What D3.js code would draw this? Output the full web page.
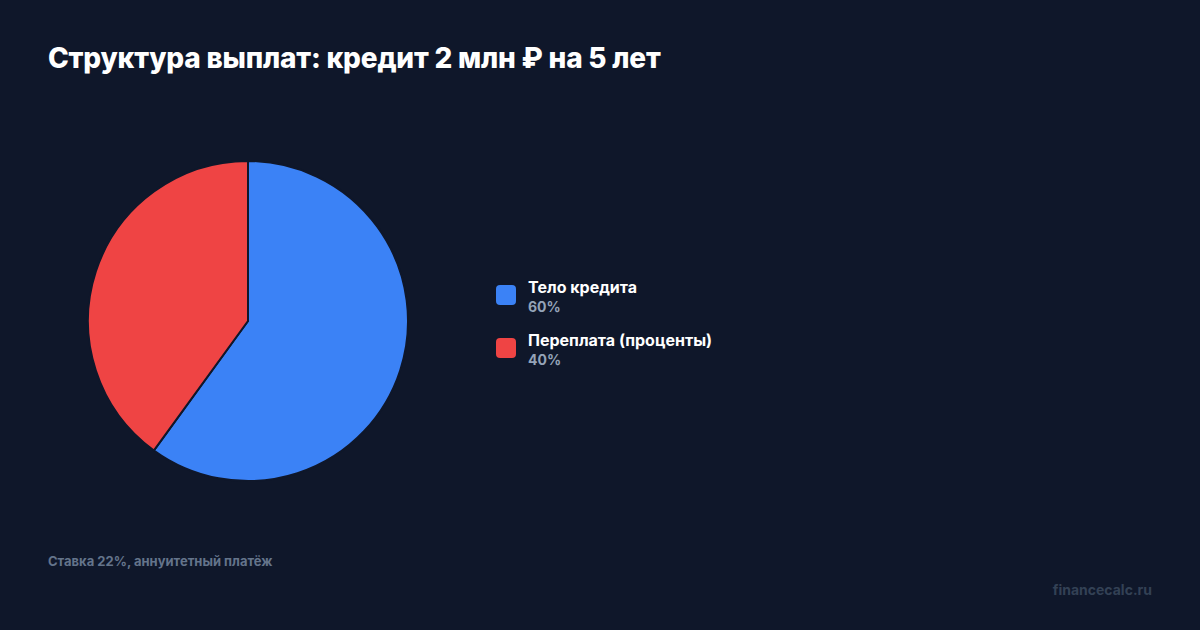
<!DOCTYPE html>
<html><head><meta charset="utf-8">
<script src="https://cdn.jsdelivr.net/npm/d3@7"></script>
<style>html,body{margin:0;padding:0;background:#0f172a;}svg{display:block;font-family:Inter,"Noto Sans",sans-serif;}</style>
</head><body>
<script>
const categories = ["Тело кредита", "Переплата (проценты)"];
const values = [60, 40];
const colors = ["#3b82f6", "#ef4444"];
const valueLabels = ["60%", "40%"];
const title = "Структура выплат: кредит 2 млн ₽ на 5 лет";
const note = "Ставка 22%, аннуитетный платёж";
const source = "financecalc.ru";

const W = 1200, H = 630;
const svg = d3.select("body").append("svg").attr("width", W).attr("height", H);
svg.append("rect").attr("width", W).attr("height", H).attr("fill", "#0f172a");

svg.append("text").attr("x", 48).attr("y", 68).attr("fill", "#ffffff")
  .attr("font-size", 28).attr("font-weight", 800).attr("letter-spacing", -0.2).text(title);

const data = categories.map((c, i) => ({c, v: values[i], col: colors[i], lab: valueLabels[i]}));
const pie = d3.pie().value(d => d.v).sort(null);
const arc = d3.arc().innerRadius(0).outerRadius(160);
const g = svg.append("g").attr("transform", "translate(248,321)");
g.selectAll("path").data(pie(data)).join("path")
  .attr("d", arc).attr("fill", d => d.data.col)
  .attr("stroke", "#0f172a").attr("stroke-width", 2).attr("stroke-linejoin", "round");

const leg = svg.append("g");
const y0 = 285, dy = 53;
const items = leg.selectAll("g").data(data).join("g")
  .attr("transform", (d, i) => `translate(496,${y0 + i * dy})`);
items.append("rect").attr("width", 20).attr("height", 20).attr("rx", 4).attr("fill", d => d.col);
items.append("text").attr("x", 32).attr("y", 8).attr("fill", "#ffffff")
  .attr("font-size", 16).attr("font-weight", 700).text(d => d.c);
items.append("text").attr("x", 32).attr("y", 27).attr("fill", "#94a3b8")
  .attr("font-size", 14).attr("font-weight", 700).text(d => d.lab);

svg.append("text").attr("x", 48).attr("y", 566).attr("fill", "#64748b")
  .attr("font-size", 13).attr("font-weight", 700).text(note);
svg.append("text").attr("x", 1152).attr("y", 595).attr("text-anchor", "end").attr("fill", "#334155")
  .attr("font-size", 14).attr("font-weight", 700).text(source);
</script>
</body></html>
